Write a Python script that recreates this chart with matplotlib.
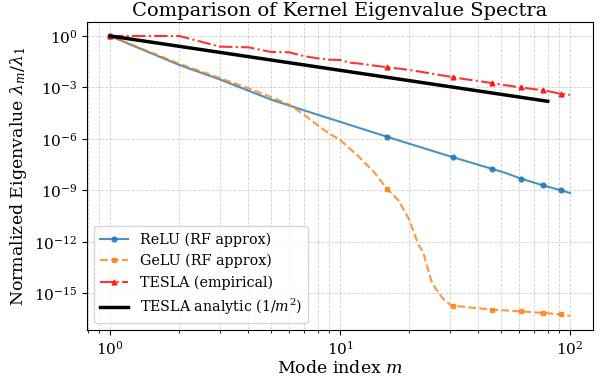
import numpy as np
import matplotlib
matplotlib.use('Agg')
import matplotlib.pyplot as plt

plt.rcParams['font.family'] = 'DejaVu Serif'
plt.rcParams['mathtext.fontset'] = 'dejavuserif'

# values, as log10(lambda_m / lambda_1)
relu_m = [1, 2, 3, 4, 5, 6, 8, 10, 12, 16, 20, 25, 31, 38, 46, 53, 61, 68, 76, 84, 91, 100]
relu_log = [0.0, -1.69, -2.53, -3.19, -3.70, -4.05, -4.59, -5.0, -5.34, -5.87, -6.28, -6.68,
            -7.07, -7.42, -7.75, -8.0, -8.31, -8.50, -8.70, -8.86, -8.99, -9.15]

gelu_m = [1, 2, 3, 4, 5, 6, 7, 8, 9, 10, 12, 14, 16, 18, 20, 21, 22, 23, 24, 25, 26, 28, 30,
          31, 40, 46, 61, 76, 91, 100]
gelu_log = [0.0, -1.62, -2.45, -3.05, -3.55, -4.0, -4.6, -5.2, -5.7, -6.05, -7.0, -7.9, -8.9,
            -9.6, -10.7, -11.5, -12.2, -12.6, -13.5, -14.3, -14.7, -15.3, -15.65,
            -15.72, -15.87, -15.95, -16.05, -16.14, -16.22, -16.32]

tesla_m = [1, 2, 3, 4, 5, 6, 7, 8, 9, 10, 11, 12, 14, 16, 18, 20, 24, 27, 31, 35, 40, 46,
           53, 61, 68, 76, 84, 91, 100]
tesla_log = [0.0, 0.0, -0.62, -0.66, -0.93, -0.95, -1.18, -1.3, -1.38, -1.4, -1.55, -1.6,
             -1.72, -1.82, -1.9, -1.98, -2.15, -2.27, -2.4, -2.52, -2.62, -2.75,
             -2.88, -3.0, -3.08, -3.16, -3.27, -3.37, -3.43]

analytic_m = [1, 10, 80]
analytic_val = [1.0, 1e-2, 1.5625e-4]

marker_m = [1, 16, 31, 46, 61, 76, 91]
ytick_vals = [1e0, 1e-3, 1e-6, 1e-9, 1e-12, 1e-15]


def every(ms):
    return [ms.index(k) for k in marker_m]


fig = plt.figure(figsize=(6.03, 3.83), dpi=100)
ax = fig.add_axes([0.1443, 0.1384, 0.8391, 0.8042])

ax.loglog(relu_m, 10.0 ** np.array(relu_log), '-', marker='o', ms=3.5, lw=1.5,
          color='#1f77b4', alpha=0.8, markevery=every(relu_m), label='ReLU (RF approx)')
ax.loglog(gelu_m, 10.0 ** np.array(gelu_log), '--', marker='s', ms=3.5, lw=1.5,
          color='#ff7f0e', alpha=0.8, markevery=every(gelu_m), label='GeLU (RF approx)')
ax.loglog(tesla_m, 10.0 ** np.array(tesla_log), '-.', marker='^', ms=3.5, lw=1.5,
          color='red', alpha=0.8, markevery=every(tesla_m), label='TESLA (empirical)')
ax.loglog(analytic_m, analytic_val, '-', lw=2.5, color='black',
          label='TESLA analytic ($1/m^2$)')

ax.set_yticks(ytick_vals)
ax.set_xlabel('Mode index $m$', fontsize=12.5, labelpad=2)
ax.set_ylabel(r'Normalized Eigenvalue $\lambda_m/\lambda_1$', fontsize=12.5)
ax.set_title('Comparison of Kernel Eigenvalue Spectra', fontsize=14, pad=4)
ax.tick_params(labelsize=11)
ax.grid(True, which='both', ls='--', lw=0.6, alpha=0.6)
ax.legend(loc='lower left', fontsize=10.3)

fig.savefig('out.png', dpi=100)
